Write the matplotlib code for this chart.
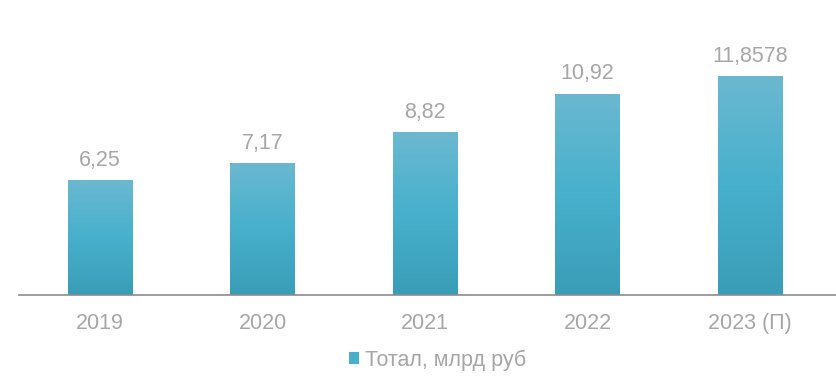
import matplotlib
matplotlib.use('Agg')
import matplotlib.pyplot as plt
import numpy as np
from matplotlib.colors import LinearSegmentedColormap
from matplotlib.patches import Patch

# Data
years = ['2019', '2020', '2021', '2022', '2023 (П)']
values = [6.25, 7.17, 8.82, 10.92, 11.8578]
labels = ['6,25', '7,17', '8,82', '10,92', '11,8578']

plt.rcParams['font.family'] = ['Liberation Sans', 'DejaVu Sans']
grey = '#a6a6a6'

fig = plt.figure(figsize=(8.36, 3.79), dpi=100)
ax = fig.add_axes([0.0227, 0.2216, 0.9773, 0.7784])

x = np.arange(len(years))
width = 0.4
bars = ax.bar(x, values, width=width, color='#4bb1cf')

# vertical gradient on each bar
cmap = LinearSegmentedColormap.from_list('g', ['#3a9db7', '#47b0cc', '#6bb8d0'])
grad = np.linspace(0, 1, 256).reshape(-1, 1)
for b in bars:
    b.set_facecolor('none')
    im = ax.imshow(grad, cmap=cmap, aspect='auto', origin='lower',
                   extent=[b.get_x(), b.get_x() + b.get_width(), 0, b.get_height()],
                   zorder=1)
    im.set_clip_path(b)

for xi, v, lab in zip(x, values, labels):
    ax.text(xi, v + 0.5, lab, ha='center', va='bottom', fontsize=15.5, color=grey)

ax.set_xlim(-0.5, 4.528)
ax.set_ylim(0, 16)
ax.set_xticks(x)
ax.set_xticklabels(years, fontsize=15.5, color=grey)
ax.tick_params(axis='x', length=0, pad=13)
ax.set_yticks([])
for s in ['top', 'right', 'left']:
    ax.spines[s].set_visible(False)
ax.spines['bottom'].set_color('#8c8c8c')
ax.spines['bottom'].set_linewidth(1.2)

handle = Patch(facecolor='#47b0cc', edgecolor='none')
fig.legend([handle], ['Тотал, млрд руб'], loc='center', bbox_to_anchor=(0.523, 0.05),
           frameon=False, fontsize=15.5, labelcolor=grey, handlelength=0.5,
           handleheight=0.5, handletextpad=0.25)

fig.savefig('out.png', dpi=100)
